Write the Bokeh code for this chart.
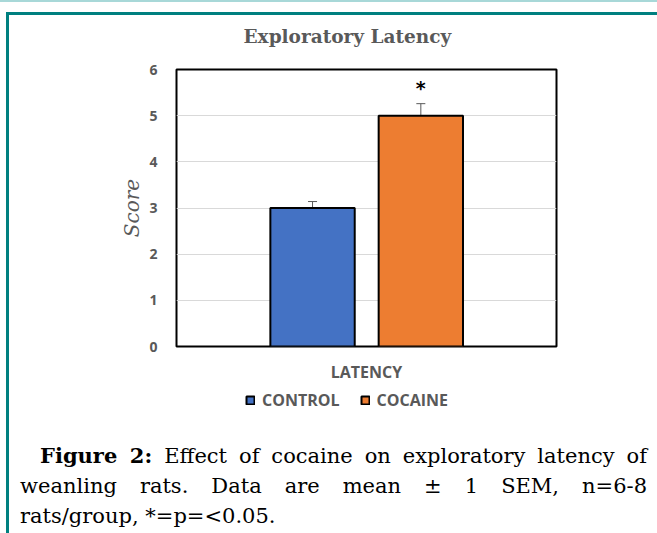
from bokeh.plotting import figure
from bokeh.layouts import column
from bokeh.models import (FactorRange, ColumnDataSource, Legend, LegendItem, Div,
                          Whisker, TeeHead, FixedTicker, Range1d)
from bokeh.transform import dodge
from bokeh.embed import file_html
from bokeh.resources import INLINE
from bokeh.core.properties import value

# ---------------- data ----------------
category = ["LATENCY"]
groups = ["CONTROL", "COCAINE"]
means = [3.0, 5.0]
sems = [0.14, 0.26]
signif = ["", "*"]
colors = ["#4472C4", "#ED7D31"]
offsets = [-0.142, 0.143]
y_ticks = [0, 1, 2, 3, 4, 5, 6]
title_text = "Exploratory Latency"
y_label = "Score"
caption_bold = "Figure 2:"
caption_line1 = "Effect of cocaine on exploratory latency of"
caption_line2 = "weanling rats. Data are mean \u00b1 1 SEM, n=6-8"
caption_line3 = "rats/group, *=p=<0.05."

# ---------------- layout (page px) ----------------
W = 657
CHART_H, LEG_H, CAP_H = 386, 28, 119
FL, FT, FR, FB = 176, 69, 556, 346   # plot frame in page coordinates
LEG_LEFT = 245
TITLE_LEFT = 243
GREY = "#595959"
SERIF = "DejaVu Serif"

p = figure(width=W, height=CHART_H, x_range=FactorRange(factors=category, range_padding=0),
           y_range=(0, 6), output_backend="svg", toolbar_location=None,
           min_border_left=FL, min_border_right=W - FR,
           min_border_top=FT, min_border_bottom=CHART_H - FB,
           background_fill_color="white", border_fill_color=None)

p.title.text = title_text
p.title.align = "left"
p.title.offset = TITLE_LEFT - FL
p.title.standoff = 46
p.title.text_font = SERIF
p.title.text_font_style = "bold"
p.title.text_font_size = "18.5px"
p.title.text_color = GREY

# legend strip (separate small figure sharing the category range)
lg = figure(width=W, height=LEG_H, x_range=p.x_range, y_range=Range1d(0, 1),
            x_axis_type=None, y_axis_type=None, output_backend="svg",
            toolbar_location=None, title=None,
            min_border_left=FL, min_border_right=W - FR, min_border_top=0, min_border_bottom=0,
            background_fill_color=None, border_fill_color=None, outline_line_color=None)
lg.grid.visible = False

items = []
for g, m, s, c, off, sg in zip(groups, means, sems, colors, offsets, signif):
    src = ColumnDataSource(dict(cat=category, mean=[m], upper=[m + s], lower=[m - s],
                                sig=[sg], sig_y=[m + s + 0.33]))
    xpos = dodge("cat", off, range=p.x_range)
    p.vbar(x=xpos, top="mean", bottom=0, width=0.222, source=src,
           fill_color=c, line_color="black", line_width=2)
    w = Whisker(source=src, base=xpos, upper="upper", lower="lower",
                line_color=GREY, line_width=1,
                upper_head=TeeHead(size=9, line_color=GREY, line_width=1),
                lower_head=TeeHead(size=9, line_color=GREY, line_width=1))
    p.add_layout(w)
    p.text(x=xpos, y="sig_y", text="sig", source=src, text_align="center",
           text_baseline="middle", text_font=value("DejaVu Sans"),
           text_font_style="bold", text_font_size="19px", text_color="black")
    lr = lg.vbar(x=xpos, top="mean", bottom=0, width=0.222, source=src,
                 fill_color=c, line_color="black", line_width=2, visible=False)
    items.append(LegendItem(label=g, renderers=[lr]))

p.yaxis.ticker = FixedTicker(ticks=y_ticks)
p.ygrid.ticker = FixedTicker(ticks=y_ticks)
for ax in (p.xaxis[0], p.yaxis[0]):
    ax.major_label_text_font = "Open Sans"
    ax.major_label_text_font_style = "bold"
    ax.major_label_text_font_size = "14px"
    ax.major_label_text_color = GREY
    ax.major_tick_line_color = None
    ax.minor_tick_line_color = None
    ax.major_tick_in = 0
    ax.major_tick_out = 0
    ax.axis_line_color = None
p.xaxis.major_label_text_font_size = "16px"
p.yaxis.major_label_standoff = 19
p.xaxis.major_label_standoff = 14
p.yaxis.axis_label = y_label
p.yaxis.axis_label_text_font = SERIF
p.yaxis.axis_label_text_font_style = "italic"
p.yaxis.axis_label_text_font_size = "20px"
p.yaxis.axis_label_text_color = GREY
p.yaxis.axis_label_standoff = 2

p.xgrid.visible = False
p.ygrid.grid_line_color = "#d9d9d9"
p.ygrid.grid_line_width = 1
p.outline_line_color = "black"
p.outline_line_width = 2
p.outline_line_alpha = 1

legend = Legend(items=items, orientation="horizontal", location="left",
                glyph_width=10, glyph_height=10, label_standoff=7, spacing=20,
                padding=0, margin=LEG_LEFT - FL, border_line_color=None,
                background_fill_alpha=0,
                label_text_font="Open Sans", label_text_font_style="bold",
                label_text_font_size="16px", label_text_color=GREY, label_height=16)
lg.add_layout(legend)

# ---------------- caption ----------------
just = "text-align:justify; text-align-last:justify; white-space:nowrap; "
cap_html = (
    f"<div style=\"font-family:'{SERIF}'; font-size:21px; line-height:30px; color:#000; "
    f"box-sizing:border-box; padding:27px 10px 0px 20px; width:{W}px;\">"
    f"<div style=\"{just} padding-left:20px;\"><b>{caption_bold}</b> {caption_line1}</div>"
    f"<div style=\"{just}\">{caption_line2}</div>"
    f"<div style=\"text-align:left; white-space:nowrap;\">{caption_line3}</div>"
    f"</div>"
)
cap = Div(text=cap_html, width=W, height=CAP_H, margin=0)

frame_css = {
    "background-color": "white",
    "background-image": ("linear-gradient(#a8d8d8,#a8d8d8), linear-gradient(#008080,#008080), "
                         "linear-gradient(#008080,#008080)"),
    "background-size": "657px 2px, 651px 3px, 3px 521px",
    "background-position": "0px 0px, 6px 12px, 6px 12px",
    "background-repeat": "no-repeat",
}
layout = column(p, lg, cap, spacing=0, styles=frame_css)

open("out.html", "w").write(file_html(layout, INLINE))
